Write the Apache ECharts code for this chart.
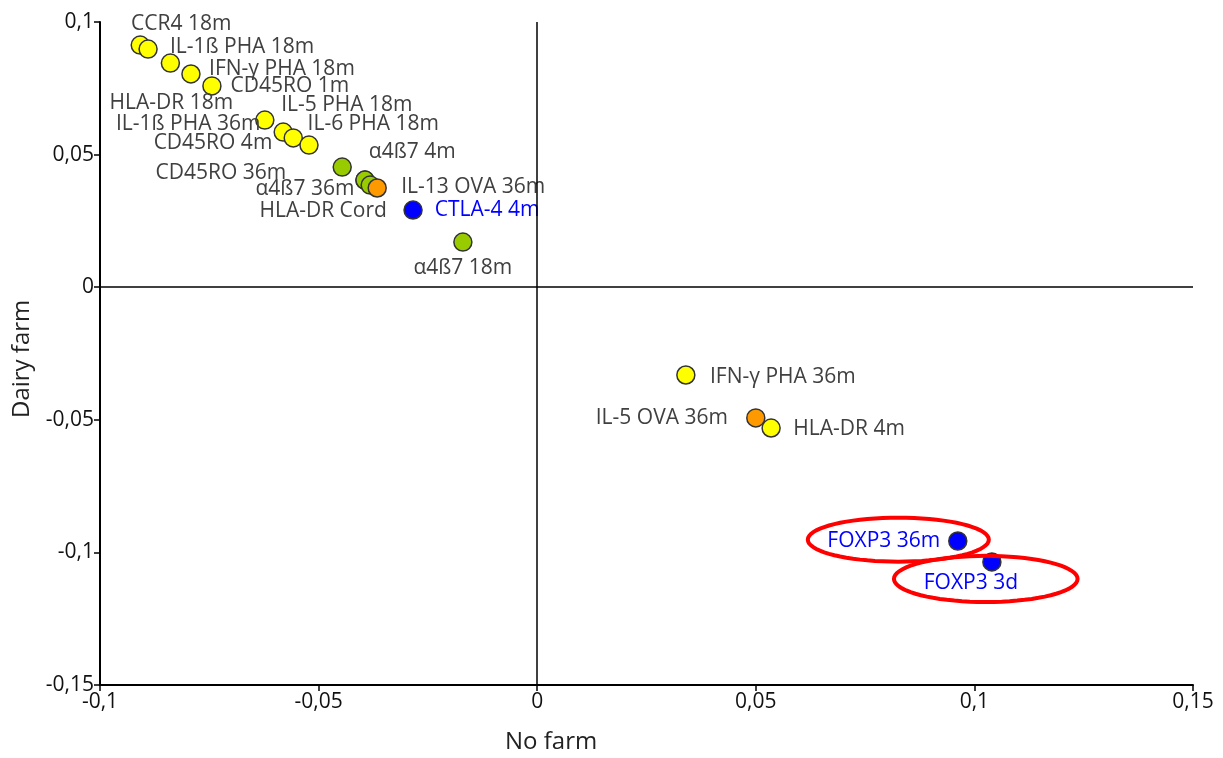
<!DOCTYPE html>
<html>
<head>
<meta charset="utf-8">
<script src="https://cdn.jsdelivr.net/npm/echarts@6/dist/echarts.min.js"></script>
<style>html,body{margin:0;padding:0;background:#fff}#c{width:1223px;height:758px}</style>
</head>
<body>
<div id="c"></div>
<script>
// ---- data ----
var names = ['CCR4 18m','IL-1ß PHA 18m','HLA-DR 18m','IFN-γ PHA 18m','CD45RO 1m','IL-5 PHA 18m','IL-1ß PHA 36m','IL-6 PHA 18m','CD45RO 4m','CD45RO 36m',
  'α4ß7 4m','α4ß7 36m','HLA-DR Cord','IL-13 OVA 36m','CTLA-4 4m','α4ß7 18m',
  'IFN-γ PHA 36m','IL-5 OVA 36m','HLA-DR 4m','FOXP3 36m','FOXP3 3d'];
var noFarm = [-0.0908,-0.0890,-0.0839,-0.0792,-0.0744,-0.0623,-0.0581,-0.0558,-0.0522,-0.0394,
  -0.0446,-0.0394,-0.0382,-0.0366,-0.0284,-0.0170,
  0.0340,0.0500,0.0535,0.0962,0.1040];
var dairyFarm = [0.0913,0.0898,0.0845,0.0804,0.0759,0.0630,0.0585,0.0563,0.0536,0.0404,
  0.0453,0.0404,0.0385,0.0374,0.0291,0.0170,
  -0.0331,-0.0493,-0.0531,-0.0957,-0.1036];
var groups = ['y','y','y','y','y','y','y','y','y','y',
  'g','g','g','o','b','g',
  'y','o','y','b','b'];
var xTicks = [-0.1,-0.05,0,0.05,0.1,0.15];
var yTicks = [-0.15,-0.1,-0.05,0,0.05,0.1];
// highlighted (ellipse) annotations in data units: [cx, cy, rx, ry]
var ellipses = [[0.0826,-0.0952,0.0207,0.0083],[0.1026,-0.1100,0.0210,0.0087]];

// ---- styling / layout ----
var colors = {y:'#ffff00', g:'#99cc00', o:'#ff9900', b:'#0000ff'};
var labelOffsets = [[41,-21],[94,-2],[1,40],[91,-5],[78,0],[82,-15],[-95,-8],[80,-14],[-96,-2],[-144,-7],
  [70,-15],[-60,9],[-47,26],[96,-1],[74,0],[0,26],
  [97,2],[-94,0],[78,1],[-74,0],[-21,21]];
var blueLabels = {'CTLA-4 4m':1,'FOXP3 36m':1,'FOXP3 3d':1};

var fmt = function(v){ var s = (Math.round(v*1000)/1000).toString(); return s.replace('.', ','); };

var data = names.map(function(n,i){
  return {
    name: n,
    value: [noFarm[i], dairyFarm[i]],
    itemStyle: {color: colors[groups[i]]},
    label: {
      show: true, formatter: n, position: 'inside', offset: labelOffsets[i],
      align: 'center', verticalAlign: 'middle',
      color: blueLabels[n] ? '#0000ff' : '#404040',
      fontFamily: 'Open Sans', fontSize: 21
    }
  };
});

var chart = echarts.init(document.getElementById('c'));
chart.setOption({
  animation: false,
  backgroundColor: '#fff',
  grid: {left: 100, right: 30, top: 22, bottom: 73, containLabel: false},
  xAxis: {
    type: 'value', min: xTicks[0], max: xTicks[xTicks.length-1], interval: 0.05,
    axisLine: {show: true, onZero: false, lineStyle: {color: '#000', width: 2}},
    axisTick: {show: true, inside: false, length: 6, lineStyle: {color: '#000', width: 1.5}},
    splitLine: {show: false},
    axisLabel: {formatter: fmt, fontFamily: 'Open Sans', fontSize: 21, color: '#111', margin: 7}
  },
  yAxis: {
    type: 'value', min: yTicks[0], max: yTicks[yTicks.length-1], interval: 0.05,
    axisLine: {show: true, onZero: false, lineStyle: {color: '#000', width: 2}},
    axisTick: {show: true, inside: false, length: 6, lineStyle: {color: '#000', width: 1.5}},
    splitLine: {show: false},
    axisLabel: {formatter: fmt, fontFamily: 'Open Sans', fontSize: 21, color: '#111', margin: 6}
  },
  graphic: [
    {type: 'text', left: 505, top: 730, style: {text: 'No farm', font: '24px "Open Sans"', fill: '#222'}},
    {type: 'text', x: 10, y: 418, rotation: Math.PI/2, style: {text: 'Dairy farm', font: '24px "Open Sans"', fill: '#222'}}
  ],
  series: [
    {
      type: 'scatter', symbol: 'circle', symbolSize: 18,
      itemStyle: {borderColor: '#333', borderWidth: 1.5, opacity: 1},
      data: data,
      z: 3,
      markLine: {
        silent: true, symbol: 'none', animation: false,
        label: {show: false},
        lineStyle: {color: '#000', width: 1.5, type: 'solid'},
        data: [{xAxis: 0}, {yAxis: 0}]
      }
    },
    {
      type: 'custom', z: 4, silent: true,
      data: ellipses,
      renderItem: function(params, api){
        var c = api.coord([api.value(0), api.value(1)]);
        var s = api.size([api.value(2), api.value(3)]);
        var pts = [];
        for (var k = 0; k < 72; k++) {
          var t = k / 72 * Math.PI * 2;
          pts.push([c[0] + s[0]*Math.cos(t), c[1] + s[1]*Math.sin(t)]);
        }
        return {type: 'polygon', shape: {points: pts}, style: {fill: 'none', stroke: '#ff0000', lineWidth: 4}};
      }
    }
  ]
});
</script>
</body>
</html>
